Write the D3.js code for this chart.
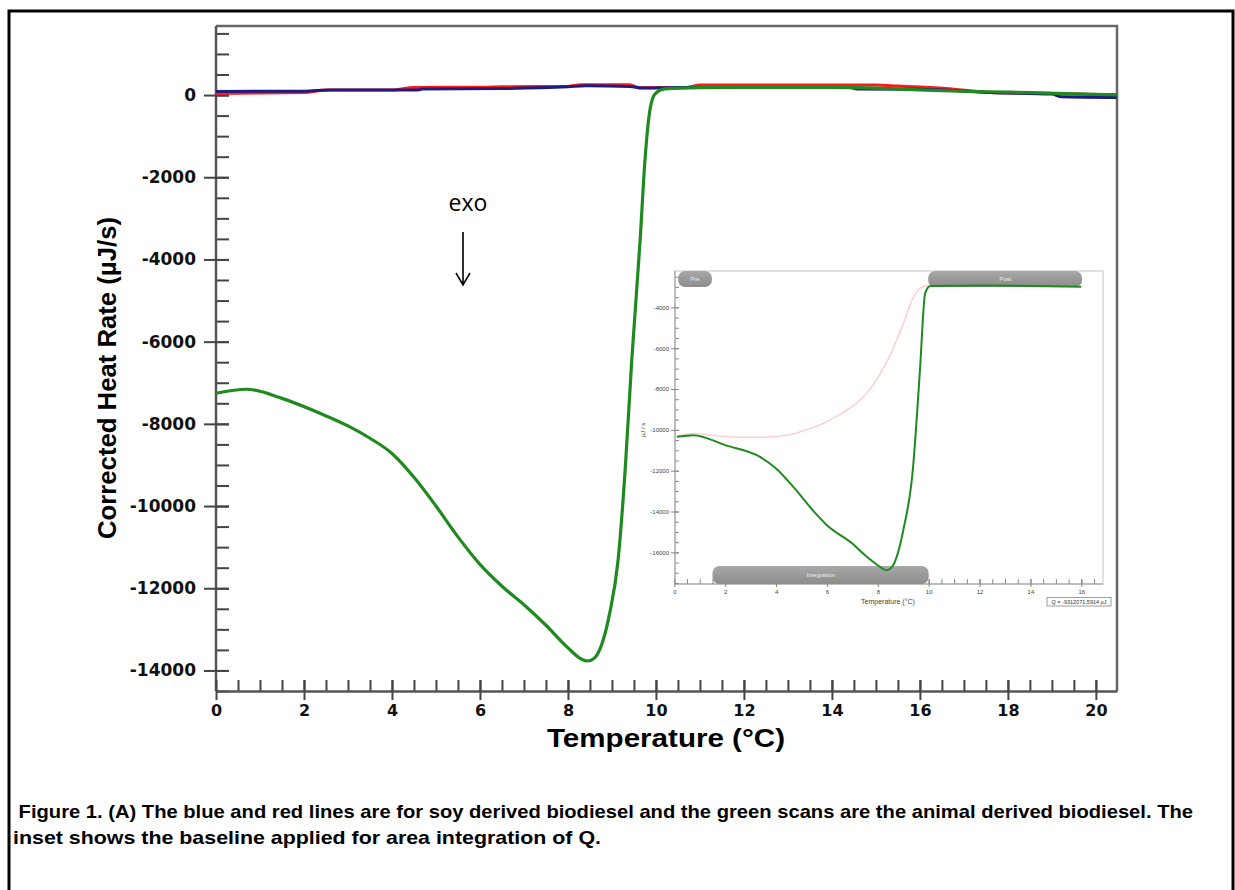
<!DOCTYPE html>
<html>
<head>
<meta charset="utf-8">
<script src="https://cdn.jsdelivr.net/npm/d3@7"></script>
<style>
  body { margin: 0; background: #fff; }
  svg { display: block; }
</style>
</head>
<body>
<div id="chart"></div>
<script>
// main scans (temperature in °C, corrected heat rate in µJ/s)
const greenT = [0, 0.7, 1.5, 2.36, 3, 3.5, 4, 4.5, 5, 5.5, 6, 6.5, 7, 7.5, 8, 8.3, 8.45, 8.6, 8.75, 8.95, 9.14, 9.3, 9.45, 9.64, 9.75, 9.86, 9.98, 10.2, 11, 12, 13, 14, 15, 15.5, 16.5, 17.5, 18.5, 19.5, 20.48]
const greenQ = [-7255, -7158, -7380, -7741, -8050, -8350, -8720, -9300, -10000, -10750, -11420, -11950, -12400, -12900, -13450, -13720, -13770, -13700, -13420, -12600, -11312, -9126, -6454, -3539, -1596, -382, 30, 150, 180, 185, 185, 185, 170, 146, 110, 80, 60, 30, 5]

const redT = [0, 1, 2, 2.5, 4, 4.5, 6, 6.5, 8, 8.3, 9.4, 9.6, 10.7, 11, 15, 15.5, 16.6, 17.6, 19, 20.48]
const redQ = [40, 50, 60, 120, 125, 185, 190, 200, 210, 250, 250, 180, 185, 243, 243, 220, 160, 63, 40, 0]

const blueT = [0, 2, 2.6, 4.6, 4.7, 6.5, 8, 8.4, 9.4, 9.7, 10.5, 14.4, 14.6, 16, 17.6, 19, 19.2, 20.48]
const blueQ = [87, 95, 121, 121, 150, 160, 200, 225, 210, 170, 185, 185, 146, 140, 60, 24, -40, -58]

const xMajor = d3.range(0, 21, 2)
const yMajor = d3.range(0, -14001, -2000)

// inset: integration window
const insetGreenT = [0.1, 0.75, 2, 3.37, 4, 4.68, 5.5, 6, 7, 7.5, 8, 8.35, 8.6, 9, 9.4, 9.47, 9.66, 9.86, 10.06, 12, 14, 16]
const insetGreenQ = [-10343, -10260, -10750, -11323, -11892, -12794, -14020, -14672, -15570, -16142, -16632, -16877, -16632, -14916, -11632, -10505, -7000, -3314, -2956, -2930, -2950, -2990]

const baseT = [0.1, 0.75, 2, 3.37, 4.5, 5.34, 6, 6.5, 7, 7.5, 8, 8.5, 9, 9.4, 9.67, 9.95]
const baseQ = [-10300, -10176, -10330, -10373, -10250, -9931, -9600, -9250, -8850, -8300, -7450, -6300, -4800, -3500, -3050, -2930]

const insetXMajor = d3.range(0, 17, 2)
const insetYMajor = d3.range(-4000, -16001, -2000)
const regions = [
  {name: "Pre", from: 0.15, to: 1.48, pos: "top"},
  {name: "Post", from: 9.98, to: 16.03, pos: "top"},
  {name: "Integration", from: 1.5, to: 10.0, pos: "bottom"}
]
const qText = "Q = -9312071.5914 µJ"

const caption1 = " Figure 1. (A) The blue and red lines are for soy derived biodiesel and the green scans are the animal derived biodiesel. The"
const caption2 = "inset shows the baseline applied for area integration of Q."

const W = 1235, H = 890
const plain = d => String(d)

const svg = d3.select("#chart").append("svg")
  .attr("width", W)
  .attr("height", H)

// outer frame
svg.append("rect")
  .attr("x", 9).attr("y", 11)
  .attr("width", 1224).attr("height", 884)
  .attr("fill", "none")
  .attr("stroke", "#000")
  .attr("stroke-width", 3)

// ---------- main chart ----------
const plot = {left: 216, right: 1117, top: 26, bottom: 691}

const x = d3.scaleLinear().domain([0, 20.48]).range([plot.left, plot.right])
const y = d3.scaleLinear().domain([-14500, 1680]).range([plot.bottom, plot.top])

// top + right frame
svg.append("path")
  .attr("d", `M${plot.left},${plot.top}H${plot.right}V${plot.bottom}`)
  .attr("fill", "none")
  .attr("stroke", "#666")
  .attr("stroke-width", 2.5)

// y axis minor ticks
svg.append("g")
  .attr("transform", `translate(${plot.left},0)`)
  .call(d3.axisLeft(y).tickValues(d3.range(1500, -14501, -500)).tickSize(-13).tickFormat(""))
  .call(g => g.select(".domain").remove())
  .selectAll("line").attr("stroke", "#444").attr("stroke-width", 2)

// y axis majors
const yAxis = svg.append("g")
  .attr("transform", `translate(${plot.left},0)`)
  .call(d3.axisLeft(y).tickValues(yMajor).tickFormat(plain).tickSize(12).tickPadding(8).tickSizeOuter(0))
yAxis.select(".domain").attr("stroke", "#555").attr("stroke-width", 2.5)
  .attr("d", `M0,${plot.top}V${plot.bottom}`)
yAxis.selectAll("line").attr("x1", 13).attr("stroke", "#444").attr("stroke-width", 2)
yAxis.selectAll("text")
  .attr("font-family", "DejaVu Sans, sans-serif")
  .attr("font-weight", "bold")
  .attr("font-size", 17)
  .attr("fill", "#111")

// x axis minor
svg.append("g")
  .attr("transform", `translate(0,${plot.bottom})`)
  .call(d3.axisBottom(x).tickValues(d3.range(0.5, 20.01, 0.5)).tickSize(-11).tickFormat(""))
  .call(g => g.select(".domain").remove())
  .selectAll("line").attr("stroke", "#444").attr("stroke-width", 2)

const xAxis = svg.append("g")
  .attr("transform", `translate(0,${plot.bottom})`)
  .call(d3.axisBottom(x).tickValues(xMajor).tickFormat(plain).tickSize(9).tickPadding(5).tickSizeOuter(0))
xAxis.select(".domain").attr("stroke", "#555").attr("stroke-width", 2.5)
xAxis.selectAll("line").attr("y1", -11).attr("stroke", "#444").attr("stroke-width", 2)
xAxis.selectAll("text")
  .attr("font-family", "DejaVu Sans, sans-serif")
  .attr("font-weight", "bold")
  .attr("font-size", 16)
  .attr("fill", "#111")

// axis titles
svg.append("text")
  .attr("transform", "translate(116,378) rotate(-90)")
  .attr("text-anchor", "middle")
  .attr("font-family", "Liberation Sans, Arial, sans-serif")
  .attr("font-weight", "bold")
  .attr("font-size", 25)
  .attr("textLength", 322)
  .attr("lengthAdjust", "spacingAndGlyphs")
  .text("Corrected Heat Rate (µJ/s)")

svg.append("text")
  .attr("x", 666).attr("y", 747)
  .attr("text-anchor", "middle")
  .attr("font-family", "Liberation Sans, Arial, sans-serif")
  .attr("font-weight", "bold")
  .attr("font-size", 26)
  .attr("textLength", 238)
  .attr("lengthAdjust", "spacingAndGlyphs")
  .text("Temperature (°C)")

// scans
const line = d3.line().x(d => x(d[0])).y(d => y(d[1])).curve(d3.curveMonotoneX)
const series = [
  {t: redT, q: redQ, color: "#ff1a1a", w: 3},
  {t: blueT, q: blueQ, color: "#1c1c80", w: 3},
  {t: greenT, q: greenQ, color: "#1f8a1f", w: 3.2}
]
series.forEach(s => {
  svg.append("path")
    .datum(d3.zip(s.t, s.q))
    .attr("d", line)
    .attr("fill", "none")
    .attr("stroke", s.color)
    .attr("stroke-width", s.w)
    .attr("stroke-linejoin", "round")
})

// exo arrow
svg.append("text")
  .attr("x", 468).attr("y", 211)
  .attr("text-anchor", "middle")
  .attr("font-family", "Open Sans, sans-serif")
  .attr("font-size", 23)
  .text("exo")
svg.append("path")
  .attr("d", "M463,232V285M456,273L463,285L470,273")
  .attr("fill", "none")
  .attr("stroke", "#000")
  .attr("stroke-width", 1.6)

// ---------- inset ----------
const ib = {left: 675, right: 1103, top: 271, bottom: 584}
const ix = d3.scaleLinear().domain([0, 16.84]).range([674.3, 1102.7])
const iy = d3.scaleLinear().domain([-17550, -2220]).range([ib.bottom, ib.top])
const inset = svg.append("g")

inset.append("rect")
  .attr("x", ib.left).attr("y", ib.top)
  .attr("width", ib.right - ib.left).attr("height", ib.bottom - ib.top)
  .attr("fill", "#fff")
  .attr("stroke", "#d8d8d8")
  .attr("stroke-width", 1.5)

// inset axes
inset.append("g")
  .attr("transform", `translate(${ib.left},0)`)
  .call(d3.axisLeft(iy).tickValues(d3.range(-2500, -17501, -500)).tickSize(-4).tickFormat(""))
  .call(g => g.select(".domain").remove())
  .selectAll("line").attr("stroke", "#888")
const iyAxis = inset.append("g")
  .attr("transform", `translate(${ib.left},0)`)
  .call(d3.axisLeft(iy).tickValues(insetYMajor).tickFormat(plain).tickSize(4).tickPadding(2).tickSizeOuter(0))
iyAxis.select(".domain").attr("stroke", "#999").attr("d", `M0,${ib.top}V${ib.bottom}`)
iyAxis.selectAll("line").attr("x1", 4).attr("stroke", "#888")
iyAxis.selectAll("text").attr("font-family", "Liberation Sans, Arial, sans-serif").attr("font-size", 6).attr("fill", "#444")

inset.append("g")
  .attr("transform", `translate(0,${ib.bottom})`)
  .call(d3.axisBottom(ix).tickValues(d3.range(0.5, 16.6, 0.5)).tickSize(-5).tickFormat(""))
  .call(g => g.select(".domain").remove())
  .selectAll("line").attr("stroke", "#888")
const ixAxis = inset.append("g")
  .attr("transform", `translate(0,${ib.bottom})`)
  .call(d3.axisBottom(ix).tickValues(insetXMajor).tickFormat(plain).tickSize(3).tickPadding(3).tickSizeOuter(0))
ixAxis.select(".domain").attr("stroke", "#999").attr("d", `M${ib.left},0H${ib.right}`)
ixAxis.selectAll("line").attr("y1", -5).attr("stroke", "#888")
ixAxis.selectAll("text").attr("font-family", "Liberation Sans, Arial, sans-serif").attr("font-size", 6).attr("fill", "#444")

inset.append("text")
  .attr("x", 888).attr("y", 604)
  .attr("text-anchor", "middle")
  .attr("font-family", "Liberation Sans, Arial, sans-serif")
  .attr("font-size", 7)
  .attr("fill", "#444")
  .text("Temperature (°C)")
inset.append("text")
  .attr("transform", "translate(645,430) rotate(-90)")
  .attr("text-anchor", "middle")
  .attr("font-family", "Liberation Sans, Arial, sans-serif")
  .attr("font-size", 6)
  .attr("fill", "#444")
  .text("µJ / s")

// region badges
const grad = svg.append("defs").append("linearGradient")
  .attr("id", "badge").attr("x1", 0).attr("x2", 0).attr("y1", 0).attr("y2", 1)
grad.append("stop").attr("offset", "0%").attr("stop-color", "#a8a8a8")
grad.append("stop").attr("offset", "100%").attr("stop-color", "#8c8c8c")

const badges = inset.selectAll("g.badge").data(regions).enter().append("g").attr("class", "badge")
badges.append("rect")
  .attr("x", d => ix(d.from))
  .attr("y", d => d.pos === "top" ? ib.top : ib.bottom - 18)
  .attr("width", d => ix(d.to) - ix(d.from))
  .attr("height", d => d.pos === "top" ? 16 : 18)
  .attr("rx", 7)
  .attr("fill", "url(#badge)")
badges.append("text")
  .attr("x", d => (ix(d.from) + ix(d.to)) / 2)
  .attr("y", d => d.pos === "top" ? ib.top + 10 : ib.bottom - 7)
  .attr("text-anchor", "middle")
  .attr("font-family", "Liberation Sans, Arial, sans-serif")
  .attr("font-size", 6)
  .attr("fill", "#eee")
  .text(d => d.name)

const iline = d3.line().x(d => ix(d[0])).y(d => iy(d[1])).curve(d3.curveMonotoneX)
inset.append("path")
  .datum(d3.zip(baseT, baseQ))
  .attr("d", iline)
  .attr("fill", "none")
  .attr("stroke", "#ffc8c8")
  .attr("stroke-width", 1.3)
inset.append("path")
  .datum(d3.zip(insetGreenT, insetGreenQ))
  .attr("d", iline)
  .attr("fill", "none")
  .attr("stroke", "#1f8a1f")
  .attr("stroke-width", 2)

// Q result box
inset.append("rect")
  .attr("x", 1047).attr("y", 597.5)
  .attr("width", 64).attr("height", 8.5)
  .attr("fill", "#fff")
  .attr("stroke", "#888")
  .attr("stroke-width", 0.8)
inset.append("text")
  .attr("x", 1079).attr("y", 604)
  .attr("text-anchor", "middle")
  .attr("font-family", "Liberation Sans, Arial, sans-serif")
  .attr("font-size", 5.5)
  .attr("fill", "#333")
  .text(qText)

// ---------- caption ----------
svg.append("text")
  .attr("x", 13).attr("y", 818)
  .attr("xml:space", "preserve")
  .attr("font-family", "Liberation Sans, Arial, sans-serif")
  .attr("font-weight", "bold")
  .attr("font-size", 19)
  .attr("textLength", 1180)
  .attr("lengthAdjust", "spacingAndGlyphs")
  .text(caption1)
svg.append("text")
  .attr("x", 13).attr("y", 844)
  .attr("font-family", "Liberation Sans, Arial, sans-serif")
  .attr("font-weight", "bold")
  .attr("font-size", 19)
  .attr("textLength", 588)
  .attr("lengthAdjust", "spacingAndGlyphs")
  .text(caption2)
</script>
</body>
</html>
